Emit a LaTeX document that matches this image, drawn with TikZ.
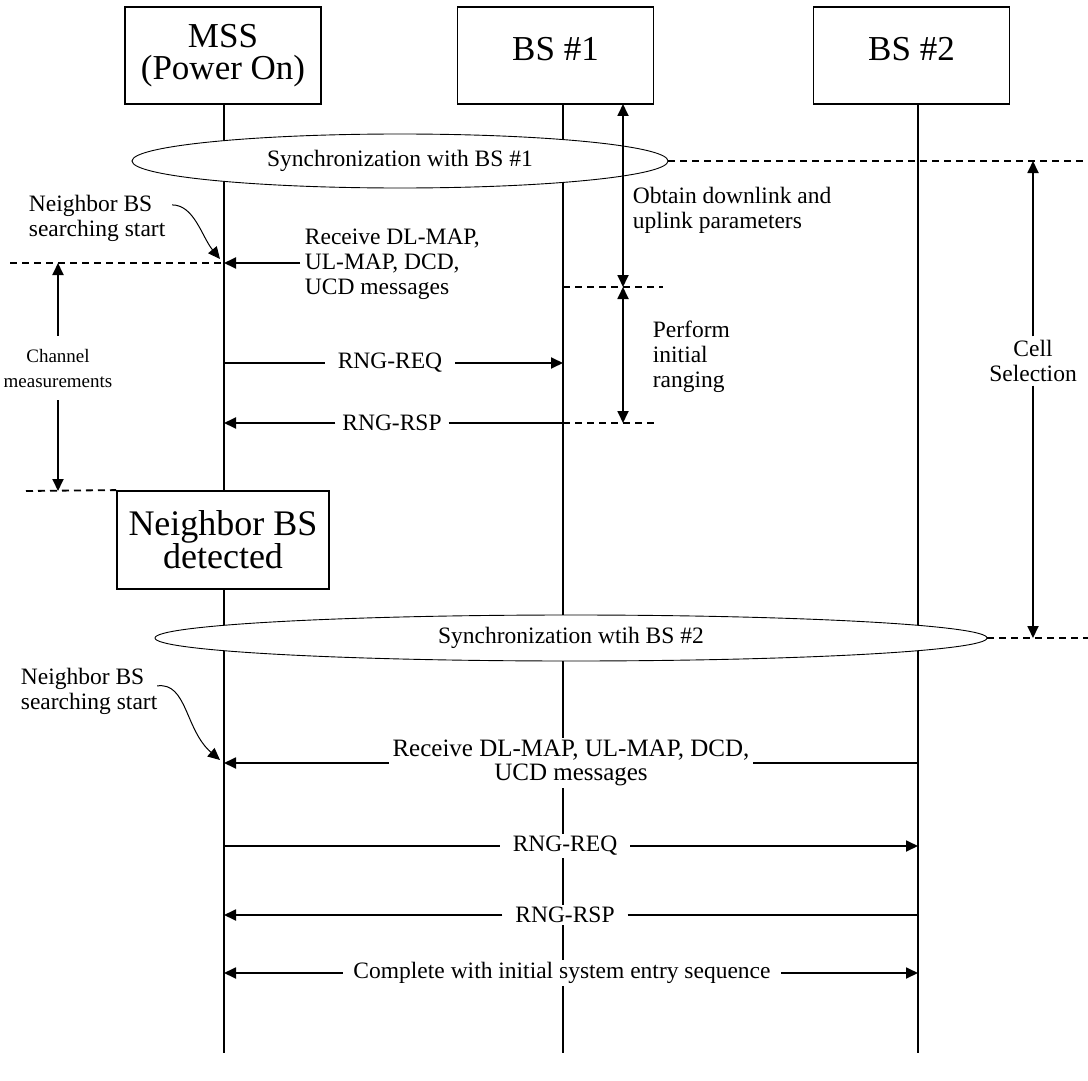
\documentclass[tikz,border=0pt]{standalone}
\usepackage{fontspec}
\setmainfont{Liberation Serif}
\usetikzlibrary{arrows.meta,shapes.geometric}
\newcommand\lblsize{\fontsize{23.5}{25}\selectfont}
\newcommand\bigsize{\fontsize{35}{32}\selectfont}

\begin{document}
\begin{tikzpicture}[x=1pt,y=-1pt,line width=1.8pt,>={Triangle[length=12pt,width=11pt]},
    ent/.style={draw,fill=white,inner sep=0pt,minimum width=196pt,minimum height=97pt,font=\bigsize,align=center},
    sync/.style={draw,ellipse,line width=0.9pt,fill=white,inner sep=0pt,font=\lblsize},
    lbl/.style={fill=white,inner xsep=4pt,inner ysep=2pt,font=\lblsize,align=center},
    note/.style={anchor=west,align=left,inner sep=0pt,font=\lblsize},
    dsh/.style={dash pattern=on 7pt off 5pt}]
  \useasboundingbox (0,0) rectangle (1088,1081);

  \node[ent] (mss) at (223,55.5) {MSS\\(Power On)};
  \node[ent,text depth=14pt] (bs1) at (555.5,55.5) {BS \#1};
  \node[ent,text depth=14pt] (bs2) at (911.5,55.5) {BS \#2};

  \coordinate (l0t) at (224,104);
  \coordinate (l0b) at (224,1053);
  \coordinate (l1t) at (563,104);
  \coordinate (l1b) at (563,1053);
  \coordinate (l2t) at (918,104);
  \coordinate (l2b) at (918,1053);
  \draw (l0t) -- (l0b);
  \draw (l1t) -- (l1b);
  \draw (l2t) -- (l2b);

  \node[sync,minimum width=536pt,minimum height=54pt] (sync1) at (400,161) {Synchronization with BS \#1};
  \node[sync,minimum width=832pt,minimum height=46pt] (sync2) at (571,638) {Synchronization wtih BS \#2};
  \coordinate (e1) at (1088,161);
  \coordinate (e2) at (1088,638);
  \draw[dsh] (sync1.east) -- (e1);
  \draw[dsh] (sync2.east) -- (e2);

  % phases at BS #1
  \coordinate (o1) at (623,104);
  \coordinate (o2) at (623,287);
  \coordinate (o3) at (623,423);
  \coordinate (d2) at (663,287);
  \draw[<->] (o1) -- (o2);
  \draw[<->] (o2) -- (o3);
  \draw[dsh] (l1t |- d2) -- (d2);
  \node[note] (obt) at (632,210) {Obtain downlink and\\uplink parameters};
  \node[note] (rng) at (652,357) {Perform\\initial\\ranging};

  \coordinate (d1) at (10,263);
  \node[lbl,anchor=west,align=left] (rcv1) at (300,264) {Receive DL-MAP,\\UL-MAP, DCD,\\UCD messages};
  \draw[->] (rcv1.west |- d1) -- (l0t |- d1);
  \node[lbl,inner xsep=12pt] (req1) at (390,363) {RNG-REQ};
  \draw (req1.west) -- (req1.west -| l0t);
  \draw[->] (req1.east) -- (req1.east -| l1t);
  \node[lbl,inner xsep=6pt] (rsp1) at (392,423) {RNG-RSP};
  \draw (rsp1.east) -- (rsp1.east -| l1t);
  \draw[->] (rsp1.west) -- (rsp1.west -| l0t);
  \coordinate (d3) at (655,423);
  \draw[dsh] (rsp1.east -| l1t) -- (d3);

  % channel measurements
  \draw[dsh] (d1) -- (d1 -| l0t);
  \node[ent,minimum width=212pt,minimum height=98pt,font=\fontsize{36}{33}\selectfont] (nbd) at (223,540) {Neighbor BS\\detected};
  \coordinate (d4) at (26,491);
  \draw[dsh] (d4) -- (nbd.north west);
  \node[lbl,inner ysep=12pt,font=\fontsize{19}{25}\selectfont] (chan) at (58,368) {Channel\\measurements};
  \draw[->] (chan.north) -- (chan.north |- d1);
  \draw[->] (chan.south) -- (chan.south |- d4);

  \node[note] (nb1) at (28,218) {Neighbor BS\\searching start};
  \coordinate (t1) at (220,259);
  \draw[->,line width=1pt] ([shift={(6,11)}]nb1.north east) .. controls +(22,0) and +(-18,-22) .. (t1);
  \node[note] (nb2) at (20,691) {Neighbor BS\\searching start};
  \coordinate (t2) at (220,760);
  \draw[->,line width=1pt] ([shift={(-1,19)}]nb2.north east) .. controls +(30,-4) and +(-35,-30) .. (t2);

  \node[lbl,inner ysep=3pt] (cell) at (1033,361) {Cell\\Selection};
  \draw[->] (cell.north) -- (cell.north |- e1);
  \draw[->] (cell.south) -- (cell.south |- e2);

  % entry with BS #2
  \node[lbl,inner xsep=3pt,font=\fontsize{25}{24}\selectfont] (rcv2) at (571,763) {Receive DL-MAP, UL-MAP, DCD,\\UCD messages};
  \draw[->] (rcv2.west) -- (rcv2.west -| l0t);
  \draw (rcv2.east) -- (rcv2.east -| l2t);
  \node[lbl,inner xsep=12pt] (req2) at (565,846) {RNG-REQ};
  \draw (req2.west) -- (req2.west -| l0t);
  \draw[->] (req2.east) -- (req2.east -| l2t);
  \node[lbl,inner xsep=12pt] (rsp2) at (565,915) {RNG-RSP};
  \draw (rsp2.east) -- (rsp2.east -| l2t);
  \draw[->] (rsp2.west) -- (rsp2.west -| l0t);
  \node[lbl,inner xsep=10pt] (cmp) at (562,973) {Complete with initial system entry sequence};
  \draw[->] (cmp.west) -- (cmp.west -| l0t);
  \draw[->] (cmp.east) -- (cmp.east -| l2t);
\end{tikzpicture}
\end{document}
